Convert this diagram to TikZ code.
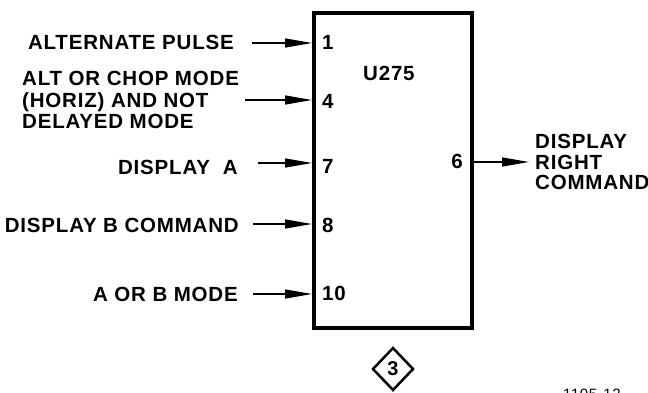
\documentclass[tikz,border=0pt]{standalone}
\usepackage{fontspec}
\setmainfont{Liberation Sans}[LetterSpace=4]
\usetikzlibrary{arrows.meta,shapes.geometric}
\begin{document}
\begin{tikzpicture}[x=1pt,y=1pt,
  lbl/.style={inner sep=0pt,font=\fontsize{20.5}{21.5}\selectfont\bfseries},
  pinarrow/.style={draw=black,line width=1.3pt,-{Triangle[length=27pt,width=9pt]}},
  chip/.style={draw=black,line width=4pt,minimum width=158pt,minimum height=315pt,inner sep=0pt}]
\useasboundingbox (0,0) rectangle (648,392);
% box
\node[chip] (box) at (393,221.5) {};
% pin numbers
\node[lbl,anchor=base west] (p1) at (322,342) {1};
\node[lbl,anchor=base west] (p4) at (322,284) {4};
\node[lbl,anchor=base west] (p7) at (322,219) {7};
\node[lbl,anchor=base west] (p8) at (322,160) {8};
\node[lbl,anchor=base west] (p10) at (322,92) {10};
\node[lbl,anchor=base east] (p6) at (463,224) {6};
\node[lbl,anchor=base west] (u) at (363,312) {U275};
% left labels
\node[lbl,anchor=base east] (l1) at (234,342) {ALTERNATE PULSE};
\node[lbl,anchor=north west,align=left] (l4) at (22,321) {ALT OR CHOP MODE\\(HORIZ) AND NOT\\DELAYED MODE};
\node[lbl,anchor=base east] (l7) at (238,218) {DISPLAY\ \ A};
\node[lbl,anchor=base east] (l8) at (239,160) {DISPLAY B COMMAND};
\node[lbl,anchor=base east] (l10) at (238,91) {A OR B MODE};
% right label
\node[lbl,anchor=north west,align=left,font=\fontsize{20.5}{20.5}\selectfont\bfseries] (r6) at (535,258) {DISPLAY\\RIGHT\\COMMAND};
% arrow starts
\coordinate (s1) at (252,349);
\coordinate (s4) at (245,292);
\coordinate (s7) at (258,229);
\coordinate (s8) at (253,168);
\coordinate (s10) at (253,98);
\coordinate (e6) at (529,230);
\draw[pinarrow] (s1) -- (box.west |- s1);
\draw[pinarrow] (s4) -- (box.west |- s4);
\draw[pinarrow] (s7) -- (box.west |- s7);
\draw[pinarrow] (s8) -- (box.west |- s8);
\draw[pinarrow] (s10) -- (box.west |- s10);
\draw[pinarrow] (box.east |- e6) -- (e6);
% diamond
\node[diamond,draw=black,line width=2.5pt,minimum width=41pt,minimum height=43pt,inner sep=0pt,font=\fontsize{20}{20}\selectfont\bfseries] (d3) at (393,23) {3};
% figure number (cut by page edge, as in the reference)
\node[inner sep=0pt,anchor=base west,font=\fontsize{15}{15}\selectfont] (fig) at (563,-7) {1105-12};
\end{tikzpicture}
\end{document}
